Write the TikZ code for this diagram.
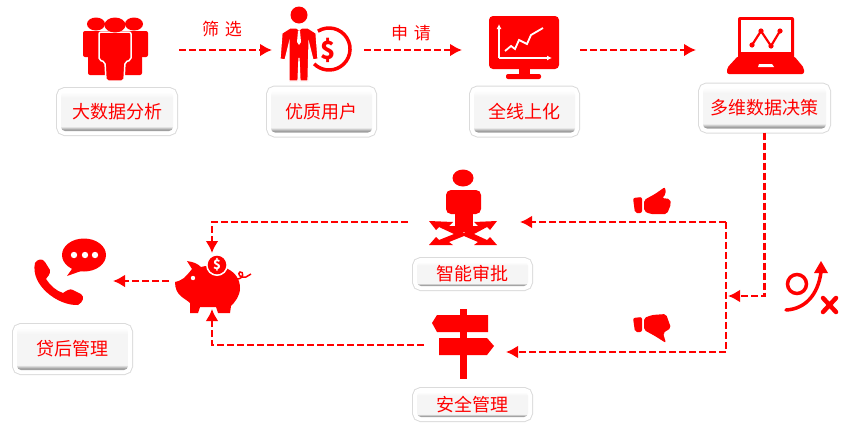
\documentclass[tikz,border=0pt]{standalone}
\usepackage{fontspec}
\setmainfont{Noto Sans CJK SC}
\usetikzlibrary{positioning,arrows.meta}
\definecolor{btnedge}{HTML}{A0A0A0}
\definecolor{btnface}{HTML}{F5F5F5}
\pgfdeclareverticalshading{btnshade}{100bp}{color(0bp)=(btnedge); color(25bp)=(btnedge); color(27bp)=(btnedge); color(31bp)=(btnface); color(68bp)=(btnface); color(75bp)=(white); color(100bp)=(white)}
\tikzset{
  button/.style={rounded corners=4pt, inner sep=0pt, outer sep=0pt, shading=btnshade, text=red,
    font=\fontsize{18pt}{20pt}\selectfont,
    preaction={draw=black!14, line width=10pt},
    preaction={draw=white, line width=8pt}},
  slot/.style={inner sep=0pt, outer sep=0pt, minimum height=40pt},
  flow/.style={red, line width=2.5pt, dash pattern=on 7pt off 3pt, -{Latex[length=12pt,width=13pt]}},
  tag/.style={text=red, inner sep=0pt, font=\fontsize{17pt}{20pt}\selectfont}
}
\begin{document}
\begin{tikzpicture}[x=1pt, y=-1pt]
    \useasboundingbox (0,0) rectangle (864,429);
    % labels
    \node[button,minimum width=112pt,minimum height=39pt] (bigdata) at (117,111.5) {大数据分析};
    \node[button,minimum width=101pt,minimum height=42pt,right=98pt of bigdata] (quality) {优质用户};
    \node[button,minimum width=101pt,minimum height=42pt,right=102pt of quality] (online) {全线上化};
    \node[button,minimum width=123pt,minimum height=41pt,right=128pt of online,yshift=3.5pt] (decision) {多维数据决策};
    \node[button,minimum width=111pt,minimum height=24pt] (approvaltxt) at (472.5,274) {智能审批};
    \node[button,minimum width=111pt,minimum height=25pt,below=106pt of approvaltxt] (safetytxt) {安全管理};
    \node[button,minimum width=111pt,minimum height=42pt] (aftertxt) at (72.5,349) {贷后管理};
    % icon places, only for the connectors
    \node[slot,minimum width=128pt] (crowd) at (115,50) {};
    \node[slot,minimum width=92pt,right=93pt of crowd] (man) {};
    \node[slot,minimum width=118pt,right=98pt of man] (monitor) {};
    \node[slot,minimum width=138pt,right=116pt of monitor] (laptop) {};
    \node[slot,minimum width=112pt] (approval) at (464,222) {};
    \node[slot,minimum width=82pt] (signpost) at (465,348) {};
    \node[slot,minimum width=86pt,minimum height=56pt] (pig) at (212,281) {};
    \node[slot,minimum width=86pt] (phone) at (70,281) {};
    \coordinate (bustop) at (726,222);
    \coordinate (busbot) at (726,352);
    \coordinate (busjoin) at (728,296);
    % connectors
    \draw[flow] (crowd.east) -- (man.west);
    \draw[flow] (man.east) -- (monitor.west);
    \draw[flow] (monitor.east) -- (laptop.west);
    \draw[flow,shorten <=4pt] (decision.south) |- (busjoin);
    \draw[red,line width=2.5pt,dash pattern=on 7pt off 3pt] (bustop) -- (busbot);
    \draw[flow] (bustop) -- (approval.east);
    \draw[flow] (busbot) -- ([yshift=-4pt]signpost.east);
    \draw[flow] (approval.west) -| (pig.north);
    \draw[flow] ([yshift=3pt]signpost.west) -| (pig.south);
    \draw[flow] (pig.west) -- (phone.east);
    \node[tag] (filtertxt) at (222,29) {筛\hspace{6pt}选};
    \node[tag] (applytxt) at (411,33) {申\hspace{6pt}请};
    % crowd
    \begin{scope}[red]
      \fill (96,24) ellipse (9 and 6.5);
      \fill (134,24) ellipse (9 and 6.5);
      \fill[rounded corners=2pt] (83,31) rectangle (148,57);
      \fill[rounded corners=2pt] (88,50) rectangle (142,75);
      \filldraw[draw=white,line width=1.5pt,rounded corners=2pt] (99,32) -- (131,32) -- (131,60) -- (125,62) -- (124,81) -- (106,81) -- (105,62) -- (99,60) -- cycle;
      \fill (115,25) ellipse (10.5 and 7.5);
      % man with coin
      \fill (299,15) circle (8.5);
      \draw[line width=3.5pt] (317.9,31.2) arc (-122:135:21);
      \filldraw[draw=white,line width=1.2pt] (290,28) -- (308,28) -- (316,33) -- (318,59) -- (313,60) -- (309,44) -- (308,81) -- (300,81) -- (299,58) -- (298,81) -- (289,81) -- (289,44) -- (285,60) -- (280,59) -- (282,33) -- cycle;
      \fill[white] (296,28) -- (302,28) -- (299,31) -- cycle;
      \fill[white] (298,31) -- (300,31) -- (301,42) -- (299,45) -- (297,42) -- cycle;
      \node[inner sep=0pt,outer sep=0pt,font=\fontsize{25pt}{26pt}\bfseries\selectfont] (manusd) at (328,50) {\$};
      % monitor
      \fill[rounded corners=4pt] (489,16) rectangle (559,69);
      \fill (519,68) rectangle (530,76);
      \fill[rounded corners=2pt] (506,74) rectangle (541,79);
      \draw[white,line width=1.3pt,-{Latex[length=5pt,width=5pt]}] (499,58) -- (499,24);
      \draw[white,line width=1.3pt,-{Latex[length=5pt,width=5pt]}] (499,58) -- (552,58);
      \draw[white,line width=1.8pt] (505,51) -- (511,46) -- (515,49) -- (519,40) -- (527,44) -- (531,35) -- (543,28);
      % laptop
      \fill[rounded corners=2pt] (738,17) rectangle (794,60);
      \fill[white] (741,20) rectangle (791,52);
      \fill[rounded corners=2pt] (738,56) -- (794,56) -- (804,68) -- (804,74) -- (727,74) -- (727,68) -- cycle;
      \fill[white] (759,64) -- (772,64) -- (774,67) -- (758,67) -- cycle;
      \draw[line width=2.2pt] (752,45) -- (761,31) -- (771,46) -- (780,31);
      \foreach \dx/\dy in {752/45,761/31,771/46,780/31} \fill (\dx,\dy) circle (2.6);
      % phone and bubble
      \fill (35,263) .. controls (37,259) and (43,258) .. (45,262) -- (50,270) .. controls (51,274) and (47,277) .. (46,279)
        .. controls (50,285) and (56,291) .. (63,293) .. controls (66,291) and (70,288) .. (73,290) -- (81,294)
        .. controls (85,297) and (83,302) .. (78,305) .. controls (58,306) and (30,285) .. (35,263) -- cycle;
      \fill (84,255) ellipse (22 and 16.5);
      \fill (74,266) -- (67,276) -- (84,270) -- cycle;
      \foreach \dx in {74,85,95} \fill[white] (\dx,255) circle (3.2);
      % pig
      \fill (175,282) .. controls (180,281) and (182,279) .. (184,278) .. controls (190,272) and (191,270) .. (192,269)
        -- (187,261) .. controls (194,262) and (198,264) .. (201,267) .. controls (220,262) and (240,270) .. (240,288)
        .. controls (240,296) and (235,302) .. (231,306) -- (230,313) -- (218,313) -- (216,307) -- (200,307) -- (198,313) -- (190,313) -- (190,303)
        .. controls (185,298) and (175,296) .. (175,282) -- cycle;
      \fill[white] (193,278) circle (2.2);
      \fill[white] (217,265) circle (11);
      \fill (217,265) circle (9.3);
      \node[text=white,inner sep=0pt,outer sep=0pt,font=\fontsize{13pt}{14pt}\bfseries\selectfont] (pigusd) at (217,265) {\$};
      \draw[line width=1.5pt] (237,279) .. controls (244,279) and (244,271) .. (240,272) .. controls (237,273) and (240,279) .. (246,277) -- (251,274);
      % approval
      \fill (463,178) ellipse (10.5 and 8.5);
      \fill[rounded corners=5pt] (446,190) rectangle (481,214);
      \fill (455,208) rectangle (473,232);
      \fill (429,221) -- (453,222) -- (449,226) -- (456,226) -- (464,233) -- (472,226) -- (478,226) -- (474,222) -- (497,221) -- (490,230) -- (487,227) -- (474,234) -- (487,240) -- (490,237) -- (497,245) -- (474,245) -- (478,242) -- (464,236) -- (449,242) -- (453,245) -- (429,245) -- (436,237) -- (439,240) -- (454,234) -- (439,227) -- (436,230) -- cycle;
      % signpost
      \fill (460,309) rectangle (467,379);
      \fill (432,323) -- (437,315) -- (488,315) -- (488,332) -- (437,332) -- cycle;
      \fill (439,338) -- (487,338) -- (494,346) -- (487,355) -- (439,355) -- cycle;
      % thumbs
      \fill[rounded corners=2pt] (633,198) -- (642,197) -- (642,213) -- (635,213) -- cycle;
      \fill[rounded corners=2pt] (644,200) -- (655,194) -- (665,187) -- (666,194) -- (662,198) -- (670,199) -- (671,204) -- (667,214) -- (650,214) -- (644,211) -- cycle;
      \fill[rounded corners=2pt] (633,318) -- (642,317) -- (642,332) -- (635,332) -- cycle;
      \fill[rounded corners=2pt] (644,318) -- (652,315) -- (666,314) -- (671,328) -- (663,333) -- (666,343) -- (655,336) -- (644,330) -- cycle;
      % decision sign
      \draw[line width=3.5pt] (797,284) circle (9.5);
      \draw[line width=3.5pt,line cap=round] (786,310) .. controls (805,309) and (818,295) .. (821,272);
      \fill (821,261) -- (828,273) -- (814,273) -- cycle;
      \draw[line width=4.5pt,line cap=round] (823,298) -- (836,312);
      \draw[line width=4.5pt,line cap=round] (836,298) -- (823,312);
    \end{scope}
  \end{tikzpicture}
\end{document}
